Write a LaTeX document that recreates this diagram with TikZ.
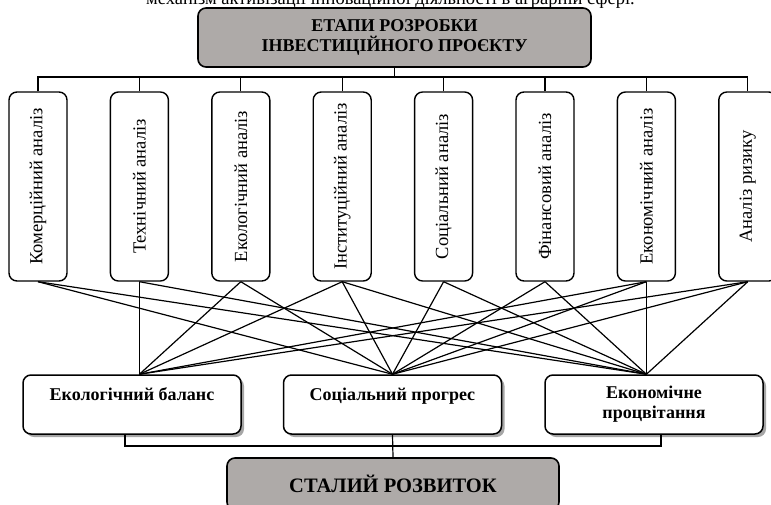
\documentclass[tikz,border=0pt]{standalone}
\usepackage{fontspec}
\setmainfont{Liberation Serif}
\usetikzlibrary{shadows}
\definecolor{headgray}{RGB}{174,170,168}
\tikzset{
  headbox/.style={draw,line width=1.6pt,rounded corners=8pt,fill=headgray,align=center,inner sep=0pt,
    font=\bfseries\fontsize{18}{20}\selectfont},
  stagebox/.style={draw,line width=1.4pt,rounded corners=8pt,fill=white,rotate=90,inner sep=0pt,
    minimum width=189pt,minimum height=58pt,font=\fontsize{18.5}{20}\selectfont},
  goalbox/.style={draw,line width=1.5pt,rounded corners=8pt,fill=white,align=center,inner sep=0pt,
    minimum width=218pt,minimum height=59pt,font=\bfseries\fontsize{18}{20}\selectfont,
    drop shadow={shadow xshift=3pt,shadow yshift=-3pt,fill=gray!70,opacity=1}},
  link/.style={line width=1.2pt}
}

\begin{document}
\begin{tikzpicture}[x=1pt,y=-1pt]
        \useasboundingbox (0,0) rectangle (771,504);

        % Cut-off text line above the figure
        \node[anchor=base east,font=\fontsize{18.5}{20}\selectfont,inner sep=0pt] (caption) at (635,4)
          {механізм активізації інноваційної діяльності в аграрній сфері.};

        % Head
        \node[headbox,minimum width=393pt,minimum height=59pt] (head) at (394.5,37.5)
          {ЕТАПИ РОЗРОБКИ\\ІНВЕСТИЦІЙНОГО ПРОЄКТУ};

        % Stages
        \node[stagebox] (komer)  at (38,186.5)    {Комерційний аналіз};
        \node[stagebox] (tekhn)  at (139.4,186.5) {Технічний аналіз};
        \node[stagebox] (ekol)   at (240.8,186.5) {Екологічний аналіз};
        \node[stagebox] (instyt) at (342.2,186.5) {Інституційний аналіз};
        \node[stagebox] (sots)   at (443.6,186.5) {Соціальний аналіз};
        \node[stagebox] (finans) at (545,186.5)   {Фінансовий аналіз};
        \node[stagebox] (ekon)   at (646.4,186.5) {Економічний аналіз};
        \node[stagebox] (ryzyk)  at (747.8,186.5) {Аналіз ризику};

        % Tree from the head to the stages
        \coordinate (topbus) at (394.5,77);
        \draw[link] (head.south) -- (topbus);
        \draw[link] (komer.east) -- (komer.east |- topbus) -- (ryzyk.east |- topbus) -- (ryzyk.east);
        \draw[link] (tekhn.east) -- (tekhn.east |- topbus);
        \draw[link] (ekol.east) -- (ekol.east |- topbus);
        \draw[link] (instyt.east) -- (instyt.east |- topbus);
        \draw[link] (sots.east) -- (sots.east |- topbus);
        \draw[link] (finans.east) -- (finans.east |- topbus);
        \draw[link] (ekon.east) -- (ekon.east |- topbus);

        % Goals
        \node[goalbox] (balans)   at (132,404.5)   {Екологічний баланс\\\phantom{п}};
        \node[goalbox] (progres)  at (392.5,404.5) {Соціальний прогрес\\\phantom{п}};
        \node[goalbox] (protsvit) at (654,404.5)   {Економічне\\процвітання};

        \coordinate (balansin)   at (tekhn.west |- balans.north);
        \coordinate (progresin)  at (progres.north);
        \coordinate (protsvitin) at (ekon.west |- protsvit.north);

        % Links from the stages to the goals
        \draw[link] (tekhn.west)  -- (balansin);
        \draw[link] (ekol.west)   -- (balansin);
        \draw[link] (instyt.west) -- (balansin);
        \draw[link] (ekon.west)   -- (balansin);
        \draw[link] (ryzyk.west)  -- (balansin);

        \draw[link] (komer.west)  -- (progresin);
        \draw[link] (ekol.west)   -- (progresin);
        \draw[link] (instyt.west) -- (progresin);
        \draw[link] (sots.west)   -- (progresin);
        \draw[link] (finans.west) -- (progresin);
        \draw[link] (ekon.west)   -- (progresin);
        \draw[link] (ryzyk.west)  -- (progresin);

        \draw[link] (komer.west)  -- (protsvitin);
        \draw[link] (tekhn.west)  -- (protsvitin);
        \draw[link] (instyt.west) -- (protsvitin);
        \draw[link] (sots.west)   -- (protsvitin);
        \draw[link] (finans.west) -- (protsvitin);
        \draw[link] (ekon.west)   -- (protsvitin);
        \draw[link] (ryzyk.west)  -- (protsvitin);

        % Result
        \node[headbox,minimum width=332pt,minimum height=52pt,font=\bfseries\fontsize{20.5}{22}\selectfont]
          (stalyi) at (393,484) {СТАЛИЙ РОЗВИТОК};

        \coordinate (lowbus) at (392.5,446);
        \draw[link] ([xshift=-7pt]balans.south) -- ([xshift=-7pt]balans.south |- lowbus)
          -- ([xshift=7pt]protsvit.south |- lowbus) -- ([xshift=7pt]protsvit.south);
        \draw[link] (progres.south) -- (stalyi.north);

      \end{tikzpicture}
\end{document}
